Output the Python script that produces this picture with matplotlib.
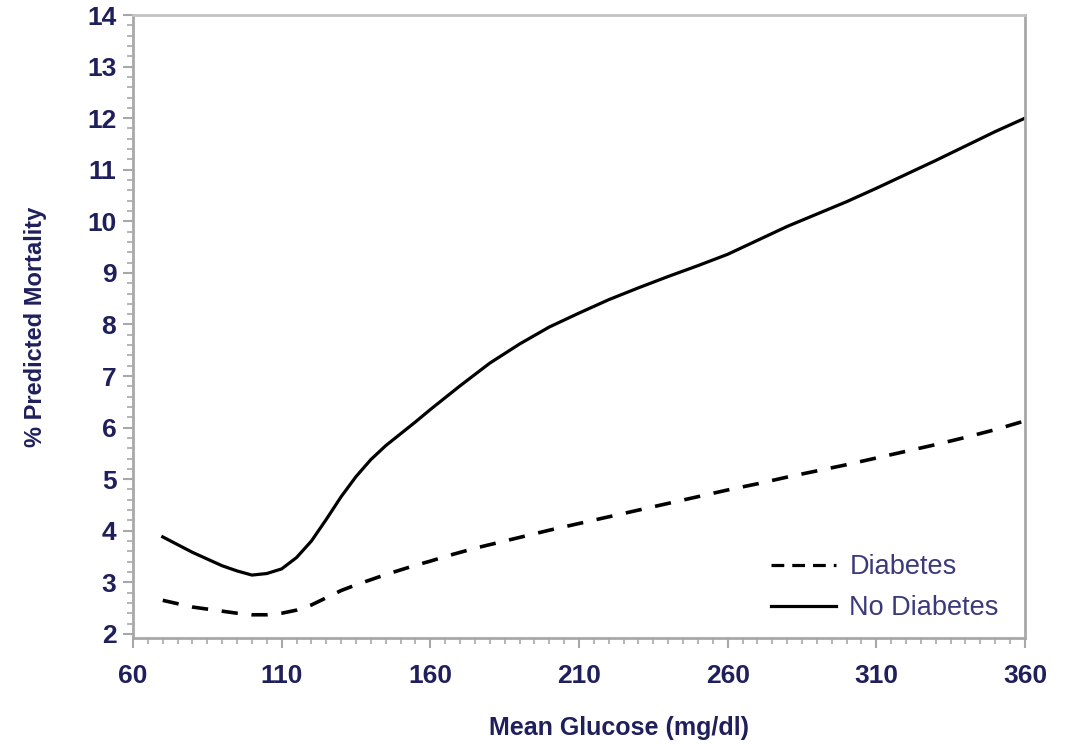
import matplotlib
matplotlib.use("Agg")
import matplotlib.pyplot as plt
from matplotlib.lines import Line2D
from matplotlib.ticker import MultipleLocator

# mean glucose (mg/dl)
glucose = [70, 80, 90, 95, 100, 105, 110, 115, 120, 125, 130, 135, 140, 145, 150, 155,
           160, 165, 170, 175, 180, 190, 200, 210, 220, 230, 240, 250, 260, 270, 280,
           290, 300, 310, 320, 330, 340, 350, 360]

# % predicted mortality
no_diabetes = [3.88, 3.58, 3.32, 3.22, 3.14, 3.17, 3.26, 3.48, 3.80, 4.22, 4.66, 5.05,
               5.38, 5.65, 5.88, 6.11, 6.35, 6.58, 6.81, 7.03, 7.25, 7.62, 7.95, 8.22,
               8.48, 8.71, 8.93, 9.14, 9.36, 9.63, 9.90, 10.14, 10.38, 10.64, 10.91,
               11.18, 11.46, 11.74, 12.0]
diabetes = [2.65, 2.52, 2.44, 2.40, 2.37, 2.37, 2.40, 2.46, 2.56, 2.70, 2.84, 2.95,
            3.05, 3.15, 3.24, 3.33, 3.41, 3.50, 3.58, 3.66, 3.73, 3.87, 4.01, 4.14,
            4.27, 4.40, 4.53, 4.66, 4.79, 4.91, 5.04, 5.16, 5.28, 5.41, 5.54, 5.67,
            5.81, 5.96, 6.13]

x_ticks = [60, 110, 160, 210, 260, 310, 360]
y_ticks = list(range(2, 15))

navy = "#1f1f5c"
grey = "#a8a8a8"
plt.rcParams["font.family"] = ["Liberation Sans", "DejaVu Sans"]

fig = plt.figure(figsize=(10.66, 7.44), dpi=100)
ax = fig.add_axes([0.1248, 0.1425, 0.8367, 0.8373])

ax.plot(glucose, diabetes, color="black", lw=2.6, dashes=(4.5, 3.8))
ax.plot(glucose, no_diabetes, color="black", lw=2.3)

ax.set_xlim(60, 360)
ax.set_ylim(1.92, 14)
ax.set_xticks(x_ticks)
ax.set_yticks(y_ticks)
ax.xaxis.set_minor_locator(MultipleLocator(5))
ax.yaxis.set_minor_locator(MultipleLocator(0.2))

ax.tick_params(which="major", length=7, width=1.5, color=grey, direction="out",
               labelsize=19, labelcolor=navy)
ax.tick_params(which="minor", length=4, width=1.2, color=grey, direction="out")
ax.tick_params(axis="x", which="major", pad=12)
ax.tick_params(axis="y", which="major", pad=5)
for lab in ax.get_xticklabels() + ax.get_yticklabels():
    lab.set_fontweight("bold")

for side in ["left", "bottom", "right"]:
    ax.spines[side].set_color(grey)
    ax.spines[side].set_linewidth(2)
ax.spines["top"].set_color("#c4c4c4")
ax.spines["top"].set_linewidth(2)

ax.set_xlabel("Mean Glucose (mg/dl)", fontsize=18, fontweight="bold", color=navy)
ax.xaxis.set_label_coords(0.545, -0.126)
ax.set_ylabel("% Predicted Mortality", fontsize=17, fontweight="bold", color=navy)
ax.yaxis.set_label_coords(-0.097, 0.5)

handles = [Line2D([], [], color="black", lw=2.3, dashes=(4, 2.5)),
           Line2D([], [], color="black", lw=2.3)]
leg = ax.legend(handles, ["Diabetes", "No Diabetes"], loc="lower right",
                bbox_to_anchor=(0.998, -0.012), frameon=False, fontsize=19.5,
                handlelength=2.4, handletextpad=0.5, labelspacing=0.55)
for t in leg.get_texts():
    t.set_color("#3a3a7a")

fig.savefig("out.png", dpi=100)
